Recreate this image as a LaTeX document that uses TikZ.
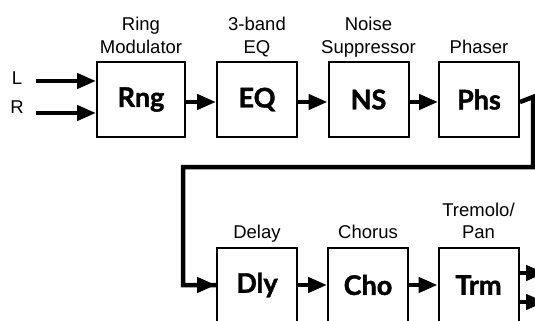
\documentclass[tikz,border=0pt]{standalone}
\usepackage{fontspec}
\setmainfont{Liberation Sans}
\newfontfamily\boxfont{Lato}[BoldFeatures={FakeBold=1.5}]
\usetikzlibrary{arrows.meta}
\begin{document}
\begin{tikzpicture}[x=1pt,y=-1pt,
  fx/.style={draw, line width=2pt, minimum width=80pt, minimum height=75pt, inner sep=0pt,
    font=\boxfont\bfseries\fontsize{27}{27}\selectfont},
  lbl/.style={anchor=base, inner sep=0pt, font=\fontsize{18.5}{20}\selectfont},
  sig/.style={line width=4.5pt, -{Triangle[length=19pt,width=15pt]}},
  wire/.style={line width=4.5pt}]
\useasboundingbox (0,0) rectangle (535,321);
\clip (0,0) rectangle (535,321);
% top row
\node[fx, minimum width=88pt] (rng) at (141,99.5) {Rng};
\node[fx] (eq)  at (257,99.5) {EQ};
\node[fx] (ns)  at (368.5,99.5) {NS};
\node[fx] (phs) at (479,99.5) {Phs};
% bottom row
\node[fx] (dly) at (257,285) {Dly};
\node[fx] (cho) at (368,285) {Cho};
\node[fx] (trm) at (478.5,285) {Trm};
% labels
\node[lbl] (l1a) at (141,31) {Ring};
\node[lbl] (l1b) at (141,53) {Modulator};
\node[lbl] (l2a) at (257,31) {3-band};
\node[lbl] (l2b) at (257,53) {EQ};
\node[lbl] (l3a) at (368.5,31) {Noise};
\node[lbl] (l3b) at (368.5,53) {Suppressor};
\node[lbl] (l4b) at (479,53) {Phaser};
\node[lbl] (l5b) at (257,238) {Delay};
\node[lbl] (l6b) at (368,238) {Chorus};
\node[lbl] (l7a) at (478.5,216) {Tremolo/};
\node[lbl] (l7b) at (478.5,238) {Pan};
\node[lbl] (inL) at (17,84) {L};
\node[lbl] (inR) at (17,113) {R};
% inputs
\coordinate (sL) at (36,81);
\coordinate (sR) at (36,113);
\draw[sig] (sL) -- (sL -| rng.west);
\draw[sig] (sR) -- (sR -| rng.west);
% chain
\draw[sig] ([yshift=-2.5pt]rng.east) -- ([yshift=-2.5pt]eq.west);
\draw[sig] ([yshift=-2.5pt]eq.east) -- ([yshift=-2.5pt]ns.west);
\draw[sig] ([yshift=-2.5pt]ns.east) -- ([yshift=-2.5pt]phs.west);
\coordinate (c1) at (533,97);
\coordinate (c2) at (533,167);
\coordinate (c3) at (183,167);
\coordinate (c4) at (183,285);
\draw[wire, line join=miter] ([yshift=-2.5pt]phs.east) -- (c1) -- (c2) -- (c3) -- (c4) -- (dly.west);
\draw[sig] (c4) -- (dly.west);
\draw[sig] (dly.east) -- (cho.west);
\draw[sig] (cho.east) -- (trm.west);
% outputs
\coordinate (o1) at (545,273);
\coordinate (o2) at (545,302);
\draw[sig] (trm.east |- o1) -- (o1);
\draw[sig] (trm.east |- o2) -- (o2);
\end{tikzpicture}
\end{document}
